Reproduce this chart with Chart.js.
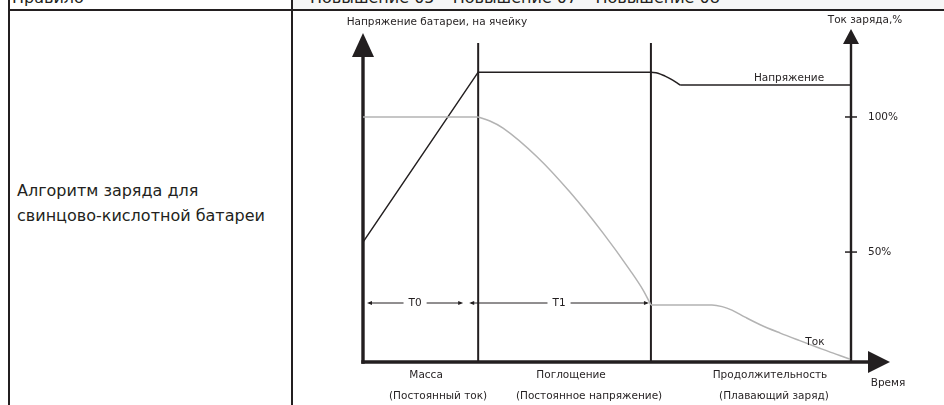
<!DOCTYPE html>
<html lang="ru">
<head>
<meta charset="utf-8">
<script src="https://cdn.jsdelivr.net/npm/chart.js@4.4.0/dist/chart.umd.min.js"></script>
<style>
  html, body { margin: 0; padding: 0; background: #fff; }
  body { width: 944px; height: 405px; position: relative; overflow: hidden;
         font-family: 'DejaVu Sans', sans-serif; color: #231f20; }
  .abs { position: absolute; }
  .rule { background: #231f20; }
  .cell-txt { font-size: 16px; line-height: 25px; white-space: nowrap; }
  #chart { position: absolute; left: 0; top: 0; }
</style>
</head>
<body>
  <!-- таблица -->
  <div class="abs" style="left:293px;top:0;width:651px;height:9px;background:#f6f6f6"></div>
  <div class="abs cell-txt" style="left:12px;top:-15px">Правило</div>
  <div class="abs cell-txt" style="left:310px;top:-15px">Повышение 05 – Повышение 07 – Повышение 08</div>
  <div class="abs rule" style="left:8px;top:9px;width:936px;height:2px"></div>
  <div class="abs rule" style="left:8px;top:0;width:2px;height:405px"></div>
  <div class="abs rule" style="left:291px;top:0;width:2px;height:405px"></div>
  <div class="abs cell-txt" style="left:17px;top:178px">Алгоритм заряда для<br>свинцово-кислотной батареи</div>

  <canvas id="chart" width="944" height="405"></canvas>

<script>
// ── Фазы заряда (условное время 0..100)
const phaseEdges  = [0, 23.6, 59, 100];
const phaseNames  = ['Масса', 'Поглощение', 'Продолжительность'];
const phaseModes  = ['(Постоянный ток)', '(Постоянное напряжение)', '(Плавающий заряд)'];
const periodNames = ['T0', 'T1'];

// ── Напряжение батареи на ячейку (условные единицы)
const voltRampT  = [0, 23.6, 59];
const voltRampV  = [36.1, 87.3, 87.3];
const voltDropT  = [59, 60.45, 61.9, 63.1, 64.1, 65];
const voltDropV  = [87.3, 87.0, 86.1, 85.2, 84.3, 83.4];
const voltFloatT = [65, 100];
const voltFloatV = [83.4, 83.4];

// ── Ток заряда, %
const currBulkT  = [0, 23.6];
const currBulkI  = [100, 100];
const currAbsT   = [23.6, 26.0, 28.7, 35.7, 42.4, 49.2, 54.7, 57.4, 59];
const currAbsI   = [100, 98.5, 95.9, 85.2, 72.2, 57.0, 43.3, 35.9, 30.4];
const currFloatT = [59, 71.5, 73.6, 75.6, 78.3, 81.4, 85.5, 89.5, 93.6, 96.9, 99.8];
const currFloatI = [30.4, 30.4, 29.8, 28.5, 25.9, 23.1, 20.0, 17.2, 14.4, 12.2, 10.4];
const currTicks  = [50, 100];

const INK  = '#231f20';
const GREY = '#b3b3b3';
const FONT = "10.5px 'DejaVu Sans', sans-serif";

const pts = (t, v) => t.map((x, i) => ({ x, y: v[i] }));

function ds(label, t, v, color, axis, curved) {
  return {
    label, data: pts(t, v), yAxisID: axis,
    borderColor: color, borderWidth: 1.5, pointRadius: 0,
    tension: 0, cubicInterpolationMode: curved ? 'monotone' : 'default',
    clip: false, fill: false
  };
}

// ── Вспомогательное: линия и наконечник стрелки
function seg(ctx, x1, y1, x2, y2) {
  ctx.beginPath(); ctx.moveTo(x1, y1); ctx.lineTo(x2, y2); ctx.stroke();
}
function head(ctx, tx, ty, dir, len, hw) {
  // dir: 'up' | 'left' | 'right'
  ctx.beginPath();
  ctx.moveTo(tx, ty);
  if (dir === 'up')    { ctx.lineTo(tx - hw, ty + len); ctx.lineTo(tx + hw, ty + len); }
  if (dir === 'left')  { ctx.lineTo(tx + len, ty - hw); ctx.lineTo(tx + len, ty + hw); }
  if (dir === 'right') { ctx.lineTo(tx - len, ty - hw); ctx.lineTo(tx - len, ty + hw); }
  ctx.closePath(); ctx.fill();
}
function dimArrow(ctx, x1, x2, y, label) {
  const w = ctx.measureText(label).width;
  const mid = (x1 + x2) / 2;
  ctx.lineWidth = 1;
  seg(ctx, x1 + 2, y, mid - w / 2 - 5, y);
  seg(ctx, mid + w / 2 + 5, y, x2 - 2, y);
  head(ctx, x1, y, 'left', 5, 2);
  head(ctx, x2, y, 'right', 5, 2);
  ctx.fillText(label, mid, y);
}

const schematic = {
  id: 'schematic',
  beforeDatasetsDraw(chart) {
    const { ctx, chartArea: a, scales: { x, y2 } } = chart;
    ctx.save();
    ctx.strokeStyle = INK; ctx.fillStyle = INK;

    // границы фаз
    ctx.lineWidth = 2;
    phaseEdges.slice(1, -1).forEach(t => {
      const px = x.getPixelForValue(t);
      seg(ctx, px, a.top + 13, px, a.bottom);
    });

    // правая ось (ток)
    ctx.lineWidth = 2.4;
    seg(ctx, a.right, a.top + 12, a.right, a.bottom);
    head(ctx, a.right, a.top - 1, 'up', 15, 8);
    ctx.lineWidth = 1.5;
    currTicks.forEach(v => {
      const py = y2.getPixelForValue(v);
      seg(ctx, a.right - 6, py, a.right + 6, py);
    });

    // левая ось (напряжение) и ось времени
    ctx.lineWidth = 3.4;
    seg(ctx, a.left, a.top + 25, a.left, a.bottom + 1.7);
    head(ctx, a.left, a.top + 3, 'up', 24, 11);
    seg(ctx, a.left - 1.7, a.bottom, a.right + 20, a.bottom);
    head(ctx, a.right + 39, a.bottom, 'right', 22, 11);

    ctx.restore();
  },
  afterDraw(chart) {
    const { ctx, chartArea: a, scales: { x, y, y2 } } = chart;
    ctx.save();
    ctx.fillStyle = INK; ctx.strokeStyle = INK;
    ctx.font = FONT;
    ctx.textBaseline = 'middle';
    ctx.textAlign = 'center';

    // заголовки осей
    ctx.fillText('Напряжение батареи, на ячейку', a.left + 74, a.top - 8);
    ctx.fillText('Ток заряда,%', a.right + 14, a.top - 10);

    // подписи делений тока
    ctx.textAlign = 'left';
    currTicks.forEach(v => ctx.fillText(v + '%', a.right + 17, y2.getPixelForValue(v)));
    ctx.textAlign = 'center';

    // подписи кривых
    ctx.fillText('Напряжение', x.getPixelForValue(87.3), y.getPixelForValue(voltFloatV[1]) - 7);
    ctx.fillText('Ток', x.getPixelForValue(92.6), y2.getPixelForValue(19) + 6);

    // интервалы T0, T1
    const ty = y2.getPixelForValue(currAbsI[currAbsI.length - 1]) - 2;
    const e1 = x.getPixelForValue(phaseEdges[1]);
    const e2 = x.getPixelForValue(phaseEdges[2]);
    dimArrow(ctx, a.left + 4, e1 - 15, ty, periodNames[0]);
    dimArrow(ctx, e1 - 9, e2 - 2, ty, periodNames[1]);

    // названия фаз
    const nameDx = [5.5, 6.5, 19];
    const modeDx = [17.5, 24.5, 23];
    phaseNames.forEach((n, i) => {
      const c = (x.getPixelForValue(phaseEdges[i]) + x.getPixelForValue(phaseEdges[i + 1])) / 2;
      ctx.fillText(n, c + nameDx[i], a.bottom + 13);
      ctx.fillText(phaseModes[i], c + modeDx[i], a.bottom + 34);
    });
    ctx.fillText('Время', a.right + 37, a.bottom + 21);

    ctx.restore();
  }
};

new Chart(document.getElementById('chart'), {
  type: 'line',
  data: {
    datasets: [
      ds('Ток (масса)',        currBulkT,  currBulkI,  GREY, 'y2', false),
      ds('Ток (поглощение)',   currAbsT,   currAbsI,   GREY, 'y2', true),
      ds('Ток (плавающий)',    currFloatT, currFloatI, GREY, 'y2', true),
      ds('Напряжение',         voltRampT,  voltRampV,  INK,  'y',  false),
      ds('Напряжение (спад)',  voltDropT,  voltDropV,  INK,  'y',  true),
      ds('Напряжение (плав.)', voltFloatT, voltFloatV, INK,  'y',  false)
    ]
  },
  options: {
    responsive: false,
    animation: false,
    devicePixelRatio: 1,
    layout: { padding: { left: 363, right: 93, top: 30, bottom: 43 } },
    plugins: { legend: { display: false }, tooltip: { enabled: false } },
    scales: {
      x:  { type: 'linear', min: 0, max: 100, display: false },
      y:  { min: 0, max: 100, display: false },
      y2: { min: 9.3, max: 132.2, display: false, position: 'right' }
    }
  },
  plugins: [schematic]
});
</script>
</body>
</html>
